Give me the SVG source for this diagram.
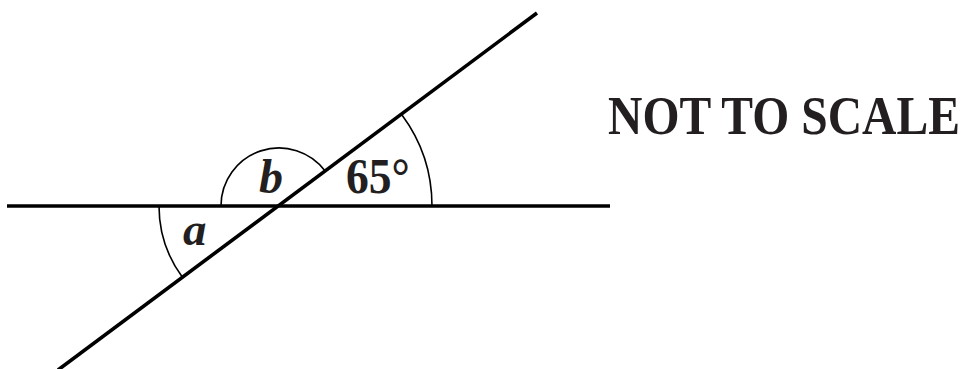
<svg xmlns="http://www.w3.org/2000/svg" width="966" height="369" viewBox="0 0 966 369">
<style>
.line{stroke:#000;stroke-width:3.6;fill:none}
.arc{stroke:#000;stroke-width:1.6;fill:none}
.lbl{font-family:"Liberation Serif","Times New Roman",serif;font-weight:bold;fill:#231f20}
.it{font-style:italic}
</style>
<rect width="966" height="369" fill="#fff"/>
<g id="connectors">
<line class="line" x1="7" y1="206" x2="610" y2="206"/>
<line class="line" x1="58" y1="370" x2="537" y2="13"/>
</g>
<g id="angle-65">
<path class="arc" d="M432,206 A153,153 0 0 0 401.8,114.8"/>
<text class="lbl" transform="translate(346,193) scale(0.95,1.05)" font-size="48">65°</text>
</g>
<g id="angle-b">
<path class="arc" d="M221,206 A58,58 0 0 1 325.6,171.4"/>
<text class="lbl it" x="259" y="193" font-size="48">b</text>
</g>
<g id="angle-a">
<path class="arc" d="M159,206 A120,120 0 0 0 182.6,277.5"/>
<text class="lbl it" x="183" y="245" font-size="47">a</text>
</g>
<g id="note">
<text class="lbl" transform="translate(608,134) scale(1.035,1.18)" font-size="46">NOT TO SCALE</text>
</g>
</svg>
